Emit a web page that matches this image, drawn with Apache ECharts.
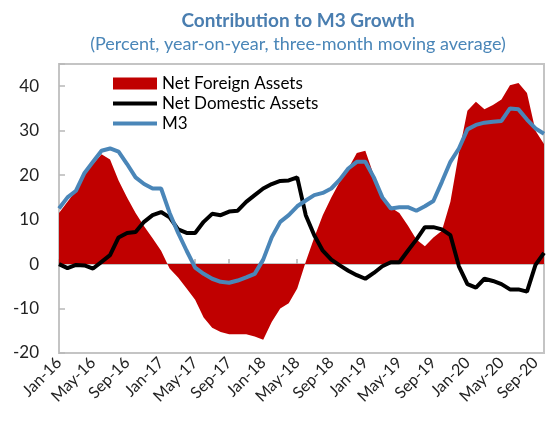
<!DOCTYPE html>
<html><head><meta charset="utf-8">
<script src="https://cdn.jsdelivr.net/npm/echarts@6/dist/echarts.min.js"></script>
<style>html,body{margin:0;padding:0;background:#fff}#c{width:549px;height:423px}</style>
</head><body><div id="c"></div><script>
const categories = [
 'Jan-16','Feb-16','Mar-16','Apr-16','May-16','Jun-16','Jul-16','Aug-16','Sep-16','Oct-16','Nov-16','Dec-16',
 'Jan-17','Feb-17','Mar-17','Apr-17','May-17','Jun-17','Jul-17','Aug-17','Sep-17','Oct-17','Nov-17','Dec-17',
 'Jan-18','Feb-18','Mar-18','Apr-18','May-18','Jun-18','Jul-18','Aug-18','Sep-18','Oct-18','Nov-18','Dec-18',
 'Jan-19','Feb-19','Mar-19','Apr-19','May-19','Jun-19','Jul-19','Aug-19','Sep-19','Oct-19','Nov-19','Dec-19',
 'Jan-20','Feb-20','Mar-20','Apr-20','May-20','Jun-20','Jul-20','Aug-20','Sep-20','Oct-20'];
const netForeignAssets = [
 11.5,14,16.5,20.5,22.5,24.7,23.5,18.8,15,11.5,8.5,5.8,
 3,-1,-3,-5.5,-8,-12,-14.3,-15.3,-15.8,-15.8,-15.8,-16.3,
 -17,-13,-10,-8.8,-5.5,0.5,6,11,15,18.5,21.5,25,
 25.5,20,15,12.7,11.5,8.7,5.5,4,6,7.5,14,25,
 34.5,36.5,34.8,35.8,37,40.2,40.7,38.5,30,27];
const netDomesticAssets = [
 0,-0.9,-0.2,-0.3,-1,0.5,2,6,7,7.2,9.5,11,
 11.7,10.5,7.8,7,7,9.5,11.3,11,11.8,12,14,15.5,
 17,18,18.7,18.8,19.5,11,6.5,3,1,-0.3,-1.5,-2.5,
 -3.3,-2,-0.5,0.4,0.4,3,5.5,8.3,8.3,7.8,6.5,-0.5,
 -4.5,-5.3,-3.3,-3.8,-4.5,-5.7,-5.7,-6.2,-0.2,2.5];
const m3 = [
 12.5,15,16.5,20.5,23,25.5,26,25.3,22.5,19.5,18,17,
 17,11.5,7,3,-0.8,-2.2,-3.3,-4,-4.2,-3.7,-3,-2.2,
 1,6,9.5,11,13,14.3,15.5,16,17,19,21.5,23,
 23,19.5,15,12.5,12.8,12.8,12,13,14.2,18.5,23,26,
 30.3,31.3,31.8,32,32.2,35,34.8,32.5,30.5,29.3];
const yMin = -20, yMax = 45, yStep = 10;

const FONT = 'Lato';
const LINE_ICON = 'path://M0,0H44V4H0Z';
const chart = echarts.init(document.getElementById('c'));
chart.setOption({
  animation: false,
  textStyle: {fontFamily: FONT},
  title: {
    text: 'Contribution to M3 Growth',
    subtext: '(Percent, year-on-year, three-month moving average)',
    left: 293, top: 6, textAlign: 'center', itemGap: 5,
    textStyle: {fontFamily: FONT, fontSize: 19, fontWeight: 'bold', color: '#4A7EB0'},
    subtextStyle: {fontFamily: FONT, fontSize: 18, color: '#4A86B8'}
  },
  legend: {
    orient: 'vertical', left: 108, top: 70, itemGap: 3,
    itemWidth: 44, itemHeight: 12,
    textStyle: {fontFamily: FONT, fontSize: 17, color: '#000'},
    data: [
      {name: 'Net Foreign Assets', icon: 'rect'},
      {name: 'Net Domestic Assets', icon: LINE_ICON},
      {name: 'M3', icon: LINE_ICON}
    ]
  },
  grid: {left: 59, right: 5, top: 64, bottom: 70, show: true, borderColor: '#C4C4C4', borderWidth: 2},
  xAxis: [{
    type: 'category', data: categories, boundaryGap: false, position: 'bottom',
    axisLine: {show: false, onZero: false}, axisTick: {show: false},
    axisLabel: {interval: 3, rotate: 45, fontSize: 16, color: '#222', margin: 7, fontFamily: FONT}
  }, {
    type: 'category', data: categories, boundaryGap: false, position: 'bottom',
    axisLine: {show: true, onZero: true, onZeroAxisIndex: 0, lineStyle: {color: '#B0B0B0', width: 1.5}},
    axisTick: {show: true, inside: true, length: 5, interval: 3, alignWithLabel: true, lineStyle: {color: '#B0B0B0', width: 1.5}},
    axisLabel: {show: false}
  }],
  yAxis: {
    type: 'value', min: yMin, max: yMax, interval: yStep,
    axisLine: {show: false},
    axisTick: {show: true, inside: true, length: 6, lineStyle: {color: '#B8B8B8', width: 1.5}},
    splitLine: {show: false},
    axisLabel: {fontSize: 17, color: '#222', margin: 20, fontFamily: FONT,
      formatter: v => (v > 40 ? '' : String(v))}
  },
  series: [{
    name: 'Net Foreign Assets', type: 'line', data: netForeignAssets,
    symbol: 'none', color: '#C00000',
    lineStyle: {width: 0}, areaStyle: {color: '#C00000', opacity: 1}, z: 1
  }, {
    name: 'Net Domestic Assets', type: 'line', data: netDomesticAssets,
    symbol: 'none', color: '#000', lineStyle: {width: 4, color: '#000'}, z: 2
  }, {
    name: 'M3', type: 'line', data: m3,
    symbol: 'none', color: '#4A86B8', lineStyle: {width: 4, color: '#4A86B8'}, z: 3
  }]
});
</script></body></html>
